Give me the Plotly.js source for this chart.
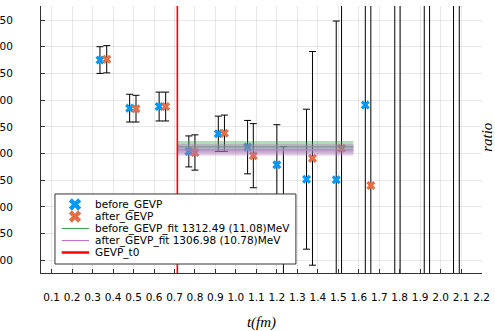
<!DOCTYPE html>
<html><head><meta charset="utf-8">
<script src="https://cdn.plot.ly/plotly-3.0.1.min.js"></script>
<style>html,body{margin:0;padding:0;background:#fff;overflow:hidden}</style>
</head><body><div id="chart" style="width:495px;height:331px"></div>
<script>
// ---- data ----
const t_before     = [0.336, 0.481, 0.625, 0.770, 0.914, 1.057, 1.200, 1.345, 1.490, 1.632, 1.776, 1.920, 2.063];
const ratio_before = [1475, 1385, 1388, 1304, 1337, 1312, 1279, 1252, 1251, 1391, 1700, 900, 1650];
const err_before   = [25, 26, 27, 29, 33, 50, 75, 131, 297, 450, 800, 800, 800];

const t_after      = [0.369, 0.512, 0.657, 0.800, 0.944, 1.085, 1.232, 1.374, 1.516, 1.659, 1.802, 1.946, 2.091];
const ratio_after  = [1476.5, 1384, 1388, 1302, 1338, 1296, 1185, 1291, 1310, 1240, 950, 1720, 1000];
const err_after    = [25.5, 25, 27, 33, 34, 60, 128, 200, 350, 450, 800, 800, 800];

const fit_t        = [0.716, 1.574];
const fit_before   = 1312.49, fit_before_err = 11.08;
const fit_after    = 1306.98, fit_after_err  = 10.78;
const t0           = 0.714;

const labels = ["before_GEVP", "after_GEVP",
  "before_GEVP_fit 1312.49 (11.08)MeV", "after_GEVP_fit 1306.98 (10.78)MeV", "GEVP_t0"];

const xRange = [0.048, 2.202];
const yRange = [1076.4, 1576.2];

// ---- styles ----
const BLUE = '#009AFA', ORANGE = '#E26F46', GREEN = '#3EA44E', PURPLE = '#C371D2', RED = '#FF0000';
const SANS = 'DejaVu Sans', SERIF = 'Liberation Serif';
const LEG = {x0:0.0317, x1:0.578, y0:0.0337, y1:0.296, symX:0.0771, lx0:0.0469, lx1:0.1088, tx:0.1186,
             rows:[0.2566, 0.2116, 0.1667, 0.1217, 0.0768]};

function errTrace(t, v, e, color) {
  return {x:t, y:v, type:'scatter', mode:'markers', showlegend:false, cliponaxis:true,
    marker:{symbol:'x', size:8, color:color, line:{width:0}},
    error_y:{type:'data', array:e, symmetric:true, color:'#000', thickness:1, width:3.5}};
}
function band(center, err, color, fillcol) {
  const lo = fit_t.map(() => center - err), hi = fit_t.map(() => center + err), mid = fit_t.map(() => center);
  return [
    {x:fit_t, y:lo, type:'scatter', mode:'lines', line:{width:0, color:color}, showlegend:false, hoverinfo:'skip'},
    {x:fit_t, y:hi, type:'scatter', mode:'lines', line:{width:0, color:color}, fill:'tonexty', fillcolor:fillcol, showlegend:false, hoverinfo:'skip'},
    {x:fit_t, y:mid, type:'scatter', mode:'lines', line:{width:1, color:color}, showlegend:false}
  ];
}

const traces = [
  errTrace(t_before, ratio_before, err_before, BLUE),
  errTrace(t_after, ratio_after, err_after, ORANGE),
  ...band(fit_before, fit_before_err, GREEN, 'rgba(62,164,78,0.4)'),
  ...band(fit_after, fit_after_err, PURPLE, 'rgba(195,113,210,0.4)'),
  {x:[t0, t0], y:yRange, type:'scatter', mode:'lines', line:{width:1.6, color:RED}, showlegend:false},
  // legend box (overlay axes in paper-like units)
  {x:[LEG.x0, LEG.x1, LEG.x1, LEG.x0, LEG.x0], y:[LEG.y0, LEG.y0, LEG.y1, LEG.y1, LEG.y0],
   xaxis:'x2', yaxis:'y2', type:'scatter', mode:'lines', fill:'toself', fillcolor:'#fff',
   line:{color:'#333', width:1}, showlegend:false, hoverinfo:'skip'},
  {x:[LEG.symX], y:[LEG.rows[0]], xaxis:'x2', yaxis:'y2', type:'scatter', mode:'markers',
   marker:{symbol:'x', size:11, color:BLUE, line:{width:0}}, showlegend:false, hoverinfo:'skip'},
  {x:[LEG.symX], y:[LEG.rows[1]], xaxis:'x2', yaxis:'y2', type:'scatter', mode:'markers',
   marker:{symbol:'x', size:11, color:ORANGE, line:{width:0}}, showlegend:false, hoverinfo:'skip'}
];

const lineShapes = [[2, GREEN, 1], [3, PURPLE, 1], [4, RED, 2.5]].map(([i, c, w]) => ({
  type:'line', xref:'paper', yref:'paper', x0:LEG.lx0, x1:LEG.lx1, y0:LEG.rows[i], y1:LEG.rows[i],
  line:{color:c, width:w}, layer:'above'}));

const annotations = labels.map((s, i) => ({
  text:s, xref:'paper', yref:'paper', x:LEG.tx, y:LEG.rows[i], xanchor:'left', yanchor:'middle',
  showarrow:false, font:{family:SANS, size:10.5, color:'#000'}}));
annotations.push({text:'ratio', xref:'paper', yref:'paper', x:1.0113, y:0.51, textangle:-90,
  xanchor:'center', yanchor:'middle', showarrow:false, font:{family:SERIF, size:15, style:'italic', color:'#000'}});

const axisCommon = {showline:true, linecolor:'#333', linewidth:1, ticks:'inside', ticklen:4, tickcolor:'#333',
  showgrid:true, gridcolor:'rgba(0,0,0,0.09)', gridwidth:1, zeroline:false, automargin:false,
  tickfont:{family:SANS, size:10.5, color:'#000'}};

const layout = {
  width:495, height:331, margin:{l:41, r:13, t:6, b:58},
  paper_bgcolor:'#fff', plot_bgcolor:'#fff', showlegend:false,
  xaxis:Object.assign({}, axisCommon, {range:xRange, tick0:0.1, dtick:0.1, tickformat:'.1f', ticklabelstandoff:14,
    title:{text:'t(fm)', font:{family:SERIF, size:15, style:'italic', color:'#000'}}}),
  yaxis:Object.assign({}, axisCommon, {range:yRange, tick0:1100, dtick:50, ticklabelstandoff:25}),
  xaxis2:{overlaying:'x', range:[0, 1], visible:false},
  yaxis2:{overlaying:'y', range:[0, 1], visible:false},
  shapes:lineShapes, annotations:annotations
};

Plotly.newPlot('chart', traces, layout, {staticPlot:true, displayModeBar:false});
</script></body></html>
